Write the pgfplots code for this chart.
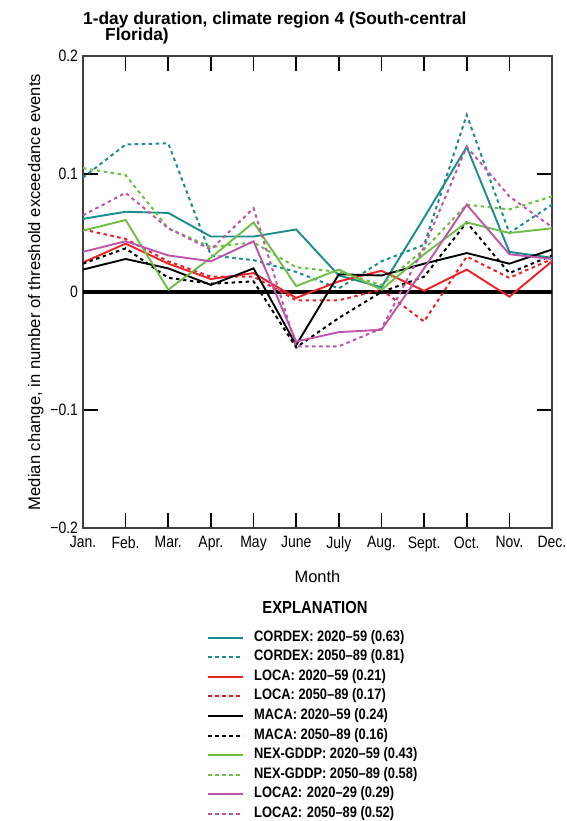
\documentclass[border=0pt]{standalone}
\usepackage{pgfplots}
\pgfplotsset{compat=1.18}
\usepackage{fontspec}
\setmainfont{Liberation Sans}
\newfontfamily\cond{Liberation Sans}[FakeStretch=0.85]
\definecolor{cteal}{RGB}{26,140,140}
\definecolor{cred}{RGB}{237,32,36}
\definecolor{cgreen}{RGB}{108,190,69}
\definecolor{cpurple}{RGB}{190,85,170}
\pgfplotsset{dotline/.style={dash pattern=on 3.5bp off 3.5bp, line width=2bp},
         solline/.style={line width=1.9bp}}
\begin{document}
\begin{tikzpicture}
\begin{axis}[name=ax, scale only axis, width=469bp, height=472bp,
  xmin=0, xmax=11, ymin=-0.2, ymax=0.2, clip=false,
  xtick={0,1,2,3,4,5,6,7,8,9,10,11},
  xticklabels={Jan.,Feb.,Mar.,Apr.,May,June,July,Aug.,Sept.,Oct.,Nov.,Dec.},
  ytick={-0.2,-0.1,0,0.1,0.2},
  yticklabels={−0.2,−0.1,0,0.1,0.2},
  xtick pos=both, ytick pos=both,
  tick align=inside,
  major tick length=15bp,
  major tick style={draw=black, solid, line width=1.6bp},
  axis line style={line width=1.4bp, black!75},
  x tick label style={font=\cond\fontsize{16.5}{18}\selectfont, yshift=-5bp},
  y tick label style={font=\cond\fontsize{16.5}{18}\selectfont, xshift=-1.5bp},
  xlabel={Month}, xlabel style={font=\fontsize{16.5}{18}\selectfont, yshift=-12bp},
  ylabel={Median change, in number of threshold exceedance events},
  ylabel style={font=\fontsize{16.7}{18}\selectfont},
  legend cell align=left,
  legend image code/.code={\draw[#1] (0bp,0bp) -- (35bp,0bp);},
  legend style={at={(0.2644,-0.218)}, anchor=north west, draw=none, fill=none,
    font=\cond\bfseries\fontsize{15.2}{16}\selectfont, inner sep=0pt, row sep=6.6bp,
    nodes={inner sep=0pt, text height=10bp, text depth=3bp},
    /tikz/every odd column/.append style={column sep=10bp}},
]
\addplot[black, line width=3.5bp, forget plot] coordinates {(0,0) (11,0)};
\addplot[draw=cteal, solline] coordinates {(0,0.062)(1,0.068)(2,0.067)(3,0.047)(4,0.047)(5,0.053)(6,0.014)(7,0.004)(8,0.063)(9,0.123)(10,0.034)(11,0.029)};
\addlegendentry{CORDEX: 2020–59 (0.63)}
\addplot[draw=cteal, dotline] coordinates {(0,0.097)(1,0.125)(2,0.126)(3,0.031)(4,0.027)(5,0.017)(6,0.003)(7,0.026)(8,0.040)(9,0.150)(10,0.050)(11,0.074)};
\addlegendentry{CORDEX: 2050–89 (0.81)}
\addplot[draw=cred, solline] coordinates {(0,0.025)(1,0.041)(2,0.024)(3,0.011)(4,0.016)(5,-0.005)(6,0.009)(7,0.018)(8,0.001)(9,0.019)(10,-0.004)(11,0.026)};
\addlegendentry{LOCA: 2020–59 (0.21)}
\addplot[draw=cred, dotline] coordinates {(0,0.053)(1,0.045)(2,0.026)(3,0.013)(4,0.013)(5,-0.007)(6,-0.007)(7,0.002)(8,-0.025)(9,0.030)(10,0.012)(11,0.028)};
\addlegendentry{LOCA: 2050–89 (0.17)}
\addplot[draw=black, solline] coordinates {(0,0.019)(1,0.028)(2,0.020)(3,0.006)(4,0.020)(5,-0.045)(6,0.015)(7,0.014)(8,0.024)(9,0.033)(10,0.024)(11,0.036)};
\addlegendentry{MACA: 2020–59 (0.24)}
\addplot[draw=black, dotline] coordinates {(0,0.024)(1,0.037)(2,0.012)(3,0.007)(4,0.009)(5,-0.047)(6,-0.022)(7,0.000)(8,0.013)(9,0.059)(10,0.016)(11,0.031)};
\addlegendentry{MACA: 2050–89 (0.16)}
\addplot[draw=cgreen, solline] coordinates {(0,0.052)(1,0.061)(2,0.002)(3,0.029)(4,0.059)(5,0.005)(6,0.019)(7,0.002)(8,0.032)(9,0.059)(10,0.050)(11,0.054)};
\addlegendentry{NEX-GDDP: 2020–59 (0.43)}
\addplot[draw=cgreen, dotline] coordinates {(0,0.105)(1,0.099)(2,0.054)(3,0.038)(4,0.042)(5,0.021)(6,0.017)(7,0.006)(8,0.036)(9,0.074)(10,0.070)(11,0.081)};
\addlegendentry{NEX-GDDP: 2050–89 (0.58)}
\addplot[draw=cpurple, solline] coordinates {(0,0.034)(1,0.043)(2,0.031)(3,0.026)(4,0.043)(5,-0.042)(6,-0.034)(7,-0.032)(8,0.020)(9,0.074)(10,0.032)(11,0.028)};
\addlegendentry{LOCA2: 2020–29 (0.29)}
\addplot[draw=cpurple, dotline] coordinates {(0,0.065)(1,0.084)(2,0.054)(3,0.036)(4,0.071)(5,-0.046)(6,-0.046)(7,-0.031)(8,0.038)(9,0.123)(10,0.081)(11,0.055)};
\addlegendentry{LOCA2: 2050–89 (0.52)}
\node[anchor=center, font=\cond\bfseries\fontsize{17.5}{19}\selectfont] at (rel axis cs:0.4947,-0.1674) {EXPLANATION};
\node[anchor=base west, inner sep=0pt, font=\bfseries\fontsize{17.4}{19}\selectfont] at (rel axis cs:0,1.0678) {1-day duration, climate region 4 (South-central};
\node[anchor=base west, inner sep=0pt, font=\bfseries\fontsize{17.4}{19}\selectfont] at (rel axis cs:0.0469,1.0318) {Florida)};
\end{axis}
\pgfresetboundingbox
\path[use as bounding box] ([shift={(-83bp,-293bp)}]ax.south west) rectangle ([shift={(15bp,56bp)}]ax.north east);
\end{tikzpicture}
\end{document}
